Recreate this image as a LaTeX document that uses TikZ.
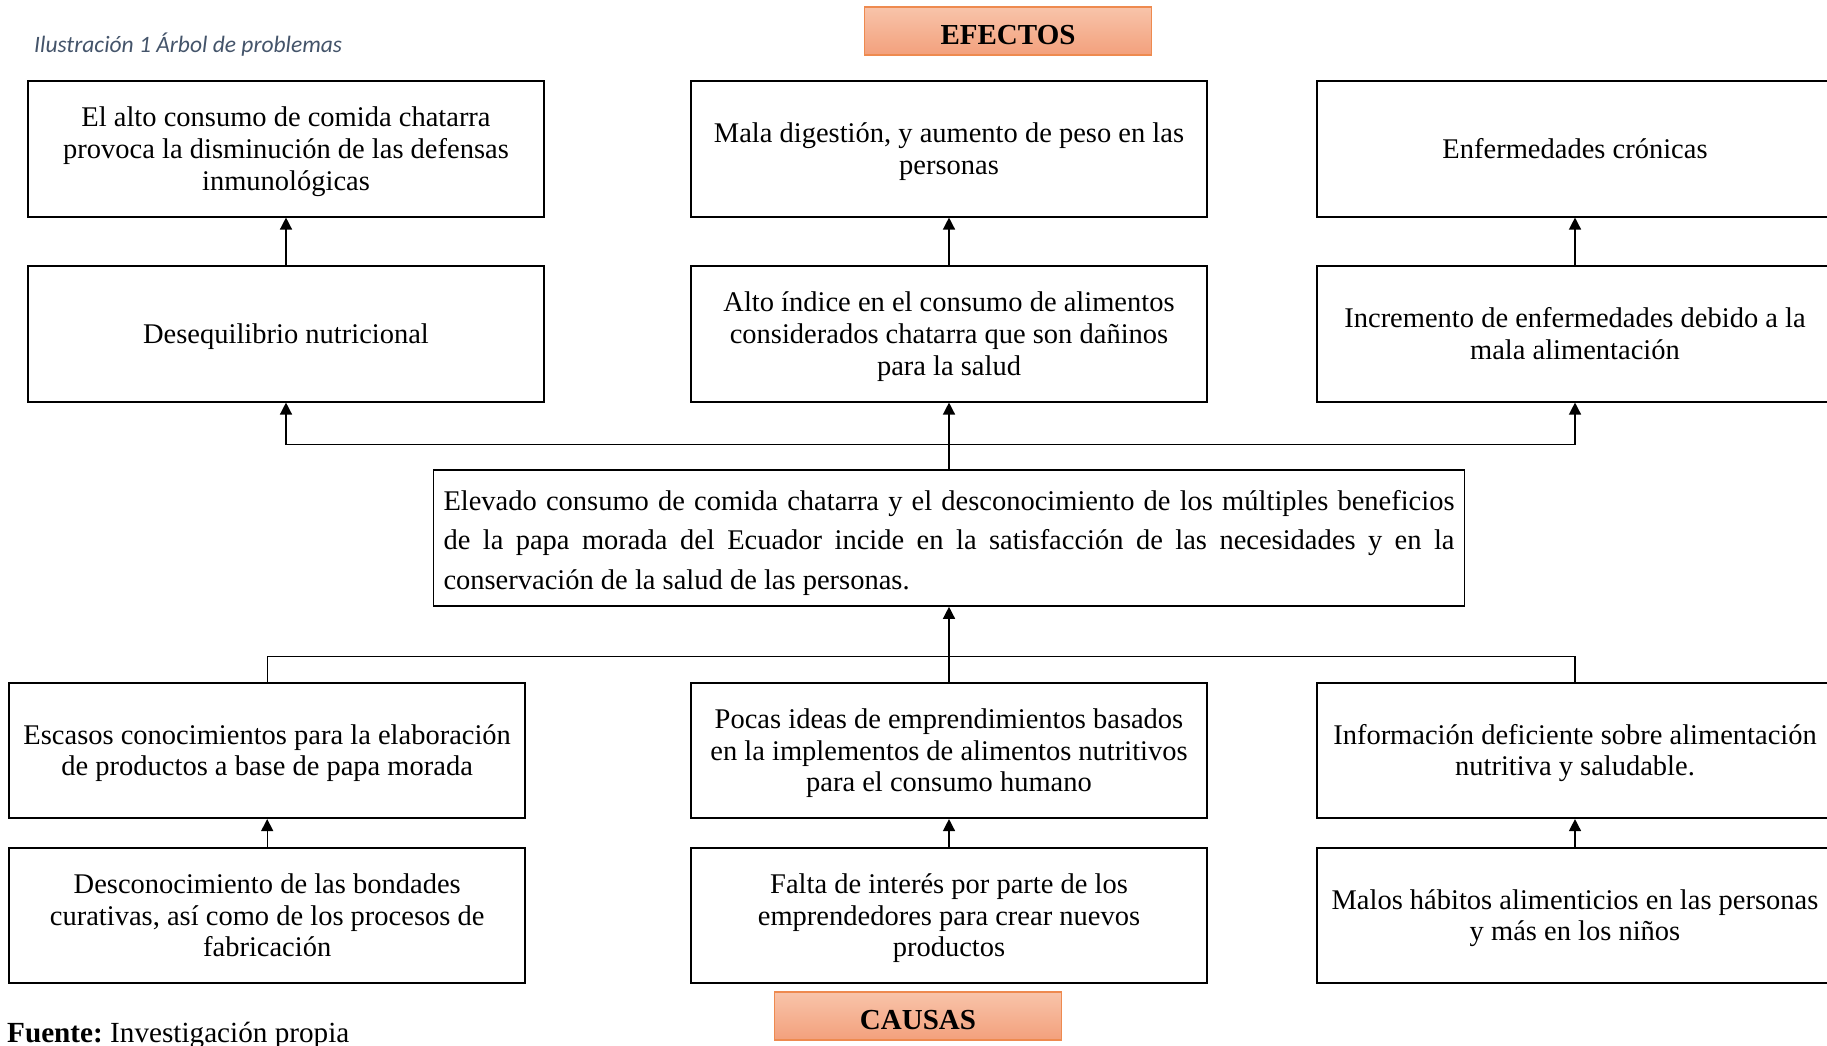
\documentclass[tikz,border=0pt]{standalone}
\usepackage{fontspec}
\setmainfont{Liberation Serif}
\newfontfamily\capfont{Carlito}
\usetikzlibrary{arrows.meta}
\definecolor{capcol}{HTML}{44546A}
\definecolor{salmonTop}{HTML}{F8C4AA}
\definecolor{salmonBot}{HTML}{F3A07C}
\definecolor{salmonEdge}{HTML}{EE8A4F}
\frenchspacing
\begin{document}
\begin{tikzpicture}[x=1pt,y=-1pt,
  box/.style={draw, line width=1.6pt, minimum width=516pt, minimum height=135.5pt,
    text width=510pt, inner xsep=3pt, inner ysep=0pt, align=center,
    font=\fontsize{28.5}{31.7}\selectfont,
    execute at begin node={\spaceskip=.25em\relax\xspaceskip=.25em\relax\rule{0pt}{26pt}},
    execute at end node={\rule[-6.8pt]{0pt}{6.8pt}}},
  corebox/.style={draw, line width=1.6pt, minimum width=1031pt, minimum height=136pt,
    text width=1011pt, inner xsep=10pt, inner ysep=0pt, align=left,
    font=\fontsize{28.5}{39.3}\selectfont,
    execute at begin node={\spaceskip=0pt\xspaceskip=0pt\rule{0pt}{31.5pt}},
    execute at end node={\rule[-7.9pt]{0pt}{7.9pt}}},
  tag/.style={draw=salmonEdge, line width=1.3pt, top color=salmonTop, bottom color=salmonBot,
    minimum width=286.5pt, minimum height=48pt, inner sep=0pt, text height=27.5pt, text depth=0pt,
    font=\fontsize{29}{32}\selectfont\bfseries},
  conn/.style={line width=1.4pt, -{Triangle[length=12pt,width=12pt]}},
  link/.style={line width=1.4pt}]
\useasboundingbox (0,0) rectangle (1827,1045);

% titles
\node[tag] (efe) at (1008,31) {EFECTOS};
\node[anchor=base west, text=capcol, inner sep=0pt,
  font=\capfont\itshape\fontsize{23.5}{26}\selectfont] (cap) at (34,52)
  {Ilustración 1 Árbol de problemas};

% effects
\node[box] (e1L) at (286,149) {El alto consumo de comida chatarra\\provoca la disminución de las defensas\\inmunológicas};
\node[box] (e1M) at (949,149) {Mala digestión, y aumento de peso en las\\personas};
\node[box] (e1R) at (1575,149) {Enfermedades crónicas};
\node[box] (e2L) at (286,334) {Desequilibrio nutricional};
\node[box] (e2M) at (949,334) {Alto índice en el consumo de alimentos\\considerados chatarra que son dañinos\\para la salud};
\node[box] (e2R) at (1575,334) {Incremento de enfermedades debido a la\\mala alimentación};

% central problem
\node[corebox] (core) at (949,538) {\leavevmode\hbox to 1011pt{Elevado consumo de comida chatarra y el desconocimiento de los múltiples beneficios}\\
\leavevmode\hbox to 1011pt{de la papa morada del Ecuador incide en la satisfacción de las necesidades y en la}\\
conservación de la salud de las personas.};

% causes
\node[box] (c1L) at (267.2,750.5) {Escasos conocimientos para la elaboración\\de productos a base de papa morada};
\node[box] (c1M) at (949,750.5) {Pocas ideas de emprendimientos basados\\en la implementos de alimentos nutritivos\\para el consumo humano};
\node[box] (c1R) at (1575,750.5) {Información deficiente sobre alimentación\\nutritiva y saludable.};
\node[box] (c2L) at (267.2,915.5) {Desconocimiento de las bondades\\curativas, así como de los procesos de\\fabricación};
\node[box] (c2M) at (949,915.5) {Falta de interés por parte de los\\emprendedores para crear nuevos\\productos};
\node[box] (c2R) at (1575,915.5) {Malos hábitos alimenticios en las personas\\y más en los niños};
\node[tag] (cau) at (918,1016) {CAUSAS};
\node[anchor=base west, inner sep=0pt, font=\fontsize{29.2}{31}\selectfont] (src) at (7,1042)
  {\textbf{Fuente:} Investigación propia};

% connectors
\coordinate (jt) at (949,444.3);
\coordinate (jb) at (949,656.7);
\draw[conn] (e2L.north) -- (e1L.south);
\draw[conn] (e2M.north) -- (e1M.south);
\draw[conn] (e2R.north) -- (e1R.south);
\draw[conn] (core.north) -- (e2M.south);
\draw[conn] (jt) -| (e2L.south);
\draw[conn] (jt) -| (e2R.south);
\draw[conn] (c1M.north) -- (core.south);
\draw[link] (jb) -| (c1L.north);
\draw[link] (jb) -| (c1R.north);
\draw[conn] (c2L.north) -- (c1L.south);
\draw[conn] (c2M.north) -- (c1M.south);
\draw[conn] (c2R.north) -- (c1R.south);
\end{tikzpicture}
\end{document}
